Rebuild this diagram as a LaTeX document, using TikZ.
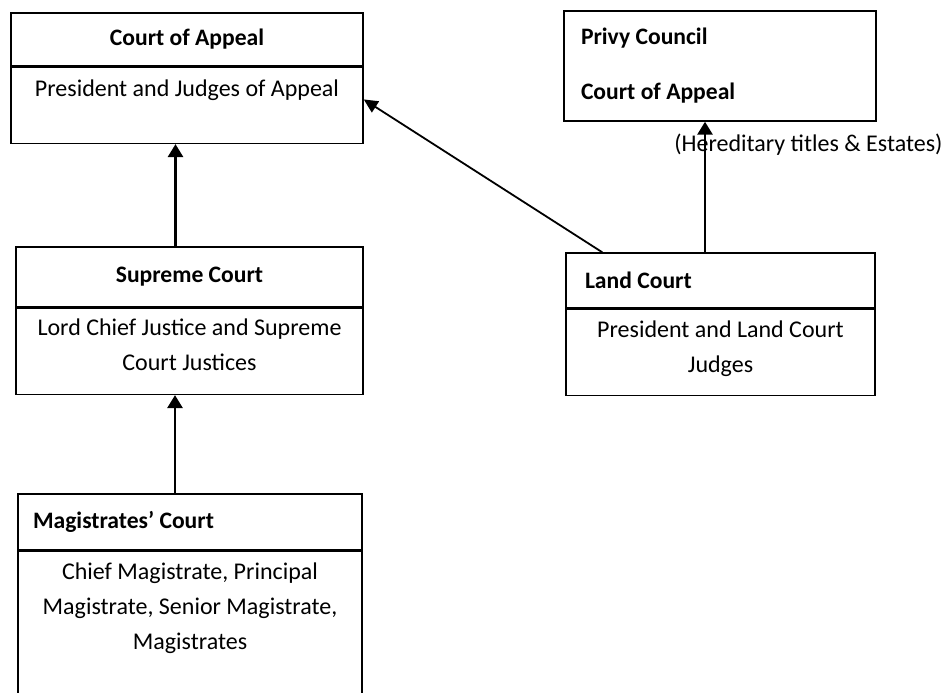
\documentclass[tikz,border=0pt]{standalone}
\usepackage{fontspec}
\setmainfont{Carlito}
\usetikzlibrary{positioning,arrows.meta}

\tikzset{
  hd/.style={draw, line width=0.7pt, font=\fontsize{11.8}{13}\selectfont\bfseries, inner sep=0pt},
  hdl/.style={hd, align=flush left, inner xsep=8.5pt},
  bd/.style={draw, line width=0.7pt, inner sep=0pt},
  txt/.style={font=\fontsize{12}{17.5}\selectfont, align=center, inner sep=0pt},
  up/.style={-{Triangle[width=7.5pt,length=6.5pt]}, line width=1.4pt},
}

\begin{document}
\begin{tikzpicture}[x=0.5pt,y=-0.5pt]
    \useasboundingbox (0,0) rectangle (946,692);

    %% COURT OF APPEAL
    \node[hd, minimum width=176pt, minimum height=26.5pt] (cah) at (187,39.5) {Court of Appeal};
    \node[bd, minimum width=176pt, minimum height=38pt, below=0pt of cah] (cab) {};
    \node[txt, below=6.5pt of cab.north] (cat) {President and Judges of Appeal};

    %% PRIVY COUNCIL
    \node[hdl, text width=139pt, minimum height=55pt] (pc) at (720,66)
        {Privy Council\\[14.5pt]Court of Appeal};
    \node[txt, anchor=west] (hered) at (674,145) {(Hereditary titles \& Estates)};

    %% SUPREME COURT
    \node[hd, minimum width=173.5pt, minimum height=30pt] (sch) at (189.5,277) {Supreme Court};
    \node[bd, minimum width=173.5pt, minimum height=43pt, below=0pt of sch] (scb) {};
    \node[txt, below=5.5pt of scb.north] (sct) {Lord Chief Justice and Supreme\\Court Justices};

    %% LAND COURT
    \node[hdl, text width=135.5pt, inner xsep=9.5pt, minimum height=27.5pt] (lch) at (720.5,280.5) {Land Court};
    \node[bd, minimum width=154.5pt, minimum height=43pt, below=0pt of lch] (lcb) {};
    \node[txt, below=6pt of lcb.north] (lct) {President and Land Court\\Judges};

    %% MAGISTRATES' COURT
    \node[hdl, text width=157pt, inner xsep=7.5pt, minimum height=28pt] (mch) at (190,522) {Magistrates’ Court};
    \node[bd, minimum width=172pt, minimum height=84.5pt, below=0pt of mch] (mcb) {};
    \node[txt, below=6pt of mcb.north] (mct) {Chief Magistrate, Principal\\Magistrate, Senior Magistrate,\\Magistrates};

    %% ARROWS
    \draw[up] ([xshift=-7pt]sch.north) -- ([xshift=-7pt]sch.north |- cab.south);
    \draw[up] ([xshift=-7.5pt]mch.north) -- ([xshift=-7.5pt]mch.north |- scb.south);
    \draw[up] ([xshift=-7.75pt]lch.north) -- ([xshift=-7.75pt]lch.north |- pc.south);
    \draw[-{Triangle[width=6.5pt,length=7pt]}, line width=0.9pt] ([xshift=18.5pt]lch.north west) -- ([yshift=3pt]cab.east);
\end{tikzpicture}
\end{document}
